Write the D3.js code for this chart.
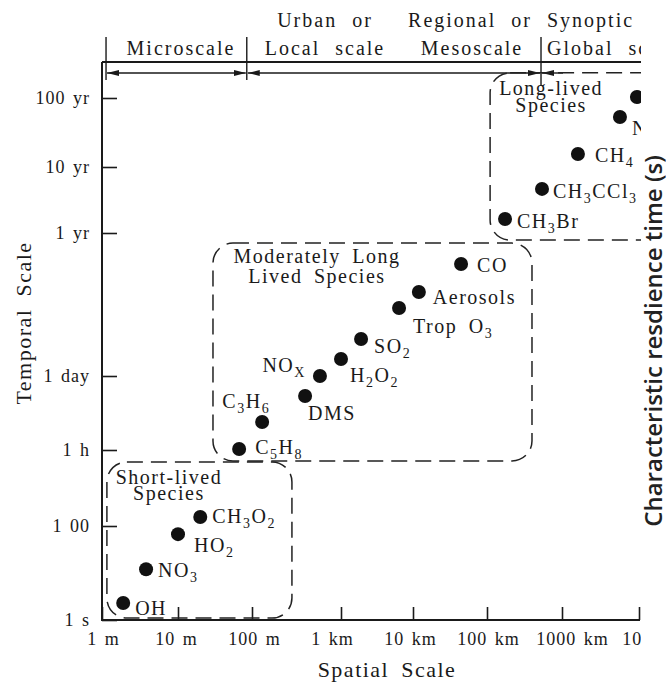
<!DOCTYPE html>
<html>
<head>
<meta charset="utf-8">
<script src="https://cdn.jsdelivr.net/npm/d3@7"></script>
<style>
body { margin: 0; background: #fff; }
svg text { font-family: "Liberation Serif", "Times New Roman", serif; fill: #1a1a1a; letter-spacing: 1.5px; word-spacing: 5px; }
svg .tick text { letter-spacing: 1px; word-spacing: 2px; }
</style>
</head>
<body>
<script>

// species, spatial scale (m) and residence time (s)
var species = ["OH", "NO_3", "HO_2", "CH_3O_2", "C_5H_8", "C_3H_6", "DMS", "NO_X", "H_2O_2", "SO_2",
  "Trop O_3", "Aerosols", "CO", "CH_3Br", "CH_3CCl_3", "CH_4", "N_2O", "CFCs"];
var spatialM = [1.9, 3.8, 10, 20, 67, 130, 395, 580, 1000, 1900,
  6400, 12000, 44600, 174000, 541000, 1.61e6, 5.66e6, 9.4e6];
var residenceS = [2.3, 12, 67, 153, 3760, 12000, 36600, 86400, 174000, 397000,
  1.43e6, 2.76e6, 8.77e6, 5.14e7, 1.47e8, 4.87e8, 1.67e9, 3.26e9];

var xTicks = [1, 10, 100, 1e3, 1e4, 1e5, 1e6, 1e7];
var xTickLabels = ["1 m", "10 m", "100 m", "1 km", "10 km", "100 km", "1000 km", "10000 km"];
var yTicks = [1, 100, 3600, 86400, 3.156e7, 3.156e8, 3.156e9];
var yTickLabels = ["1 s", "1 00", "1 h", "1 day", "1 yr", "10 yr", "100 yr"];

// dashed groups: extent in metres and seconds
var groupNames = [["Short-lived", "Species"], ["Moderately Long", "Lived Species"], ["Long-lived", "Species"]];
var groupX = [[1.16, 281], [29.7, 398000], [110000, 2e7]];
var groupY = [[1.1, 2050], [2150, 2.08e7], [2.36e7, 7.3e9]];

// scale bands along the top (metres)
var zoneEdges = [1.13, 85, 525000, 2e7];

// label placement relative to its dot: [dx, dy, anchor]
var labelPos = {
  "OH": [12, 12, "start"], "NO_3": [12, 8, "start"], "HO_2": [16, 18, "start"], "CH_3O_2": [12, 6, "start"],
  "C_5H_8": [16, 5, "start"], "C_3H_6": [8, -14, "end"], "DMS": [3, 24, "start"], "NO_X": [-14, -4, "end"],
  "H_2O_2": [9, 23, "start"], "SO_2": [13, 14, "start"], "Trop O_3": [14, 25, "start"], "Aerosols": [14, 12, "start"],
  "CO": [16, 8, "start"], "CH_3Br": [12, 9, "start"], "CH_3CCl_3": [11, 9, "start"], "CH_4": [17, 8, "start"],
  "N_2O": [12, 18, "start"], "CFCs": [14, 8, "start"]
};
var groupLabelPos = [[62, 22, 38], [104, 20, 40], [61, 22, 39]];
// the printed x labels sit a little off their ticks
var xLabelShift = [1, -2, 2, -9, -3, 1, 10, 24];

var width = 666, height = 693;

var svg = d3.select("body").append("svg")
  .attr("width", width)
  .attr("height", height);

var x = d3.scaleLog().domain(xTicks).range([102, 178, 252, 341, 413, 487, 562, 639]);
var y = d3.scaleLog().domain(yTicks).range([620, 526, 450, 376, 233, 167, 98]);

svg.append("clipPath").attr("id", "cut")
  .append("rect").attr("x", 0).attr("y", 0).attr("width", 641).attr("height", height);

var defs = svg.append("defs");
defs.append("marker")
  .attr("id", "arrow")
  .attr("viewBox", "0 0 12 6")
  .attr("refX", 12).attr("refY", 3)
  .attr("markerWidth", 12).attr("markerHeight", 6)
  .attr("markerUnits", "userSpaceOnUse")
  .attr("orient", "auto-start-reverse")
  .append("path").attr("d", "M0,0 L12,3 L0,6 Z").attr("fill", "#1a1a1a");

var chart = svg.append("g").attr("clip-path", "url(#cut)");

// header bands
var header = [
  ["Urban or", 325, 27], ["Regional or", 470, 27], ["Synoptic or", 547, 27, "start"],
  ["Microscale", 181, 55], ["Local scale", 325, 55], ["Mesoscale", 472, 55], ["Global scale", 547, 55, "start"]
];
chart.selectAll(".head")
  .data(header)
  .enter().append("text")
  .attr("class", "head")
  .attr("x", function(d) { return d[1]; })
  .attr("y", function(d) { return d[2]; })
  .attr("text-anchor", function(d) { return d[3] || "middle"; })
  .attr("font-size", 20)
  .style("letter-spacing", "2px")
  .style("word-spacing", "8px")
  .text(function(d) { return d[0]; });

chart.append("line")
  .attr("x1", x(1)).attr("x2", 641).attr("y1", 62).attr("y2", 62)
  .attr("stroke", "#1a1a1a").attr("stroke-width", 2);

chart.selectAll(".bar")
  .data(zoneEdges.slice(0, 3))
  .enter().append("line")
  .attr("class", "bar")
  .attr("x1", function(d) { return x(d); })
  .attr("x2", function(d) { return x(d); })
  .attr("y1", 37)
  .attr("y2", function(d, i) { return i == 2 ? 86 : 80; })
  .attr("stroke", "#1a1a1a").attr("stroke-width", 1.4);

// arrows between the band edges
for (var i = 0; i < 2; i++) {
  chart.append("line")
    .attr("x1", x(zoneEdges[i]) + 1).attr("x2", x(zoneEdges[i + 1]) - 1)
    .attr("y1", 73).attr("y2", 73)
    .attr("stroke", "#1a1a1a").attr("stroke-width", 1.4)
    .attr("marker-start", "url(#arrow)")
    .attr("marker-end", "url(#arrow)");
}
chart.append("line")
  .attr("x1", x(zoneEdges[2]) + 1).attr("x2", x(zoneEdges[2]) + 22)
  .attr("y1", 73).attr("y2", 73)
  .attr("stroke", "#1a1a1a").attr("stroke-width", 1.4)
  .attr("marker-start", "url(#arrow)");

// axes
var xAxis = d3.axisBottom(x)
  .tickValues(xTicks)
  .tickFormat(function(d) { return xTickLabels[xTicks.indexOf(d)]; })
  .tickSizeInner(-13).tickSizeOuter(0).tickPadding(12);
var yAxis = d3.axisLeft(y)
  .tickValues(yTicks)
  .tickFormat(function(d) { return yTickLabels[yTicks.indexOf(d)]; })
  .tickSizeInner(-15).tickSizeOuter(0).tickPadding(12);

chart.append("g")
  .attr("transform", "translate(0," + y(1) + ")")
  .call(xAxis)
  .attr("font-size", 18)
  .call(function(g) { g.select(".domain").remove(); })
  .call(function(g) { g.selectAll("line").attr("stroke", "#1a1a1a").attr("stroke-width", 1.6); })
  .call(function(g) { g.selectAll("text").attr("dx", function(d) { return xLabelShift[xTicks.indexOf(d)]; }); });

chart.append("g")
  .attr("transform", "translate(" + x(1) + ",0)")
  .call(yAxis)
  .attr("font-size", 18)
  .call(function(g) { g.select(".domain").remove(); })
  .call(function(g) { g.selectAll("line").attr("stroke", "#1a1a1a").attr("stroke-width", 1.6); });

chart.append("path")
  .attr("d", "M" + x(1) + ",62 V" + y(1) + " H640")
  .attr("fill", "none").attr("stroke", "#1a1a1a").attr("stroke-width", 2);

chart.append("text")
  .attr("transform", "translate(31,323) rotate(-90)")
  .attr("text-anchor", "middle")
  .attr("font-size", 22)
  .text("Temporal Scale");

chart.append("text")
  .attr("x", 387).attr("y", 677)
  .attr("text-anchor", "middle")
  .attr("font-size", 22)
  .text("Spatial Scale");

// dashed group outlines
var boxes = chart.selectAll(".box")
  .data(groupNames)
  .enter().append("g")
  .attr("class", "box");

boxes.append("rect")
  .attr("x", function(d, i) { return x(groupX[i][0]); })
  .attr("y", function(d, i) { return y(groupY[i][1]); })
  .attr("width", function(d, i) { return x(groupX[i][1]) - x(groupX[i][0]); })
  .attr("height", function(d, i) { return y(groupY[i][0]) - y(groupY[i][1]); })
  .attr("rx", 20)
  .attr("fill", "none")
  .attr("stroke", "#222")
  .attr("stroke-width", 1.5)
  .attr("stroke-dasharray", "16,8");

boxes.each(function(d, i) {
  var left = x(groupX[i][0]), top = y(groupY[i][1]);
  var p = groupLabelPos[i];
  d3.select(this).selectAll("text")
    .data(d)
    .enter().append("text")
    .attr("x", left + p[0])
    .attr("y", function(t, j) { return top + p[1 + j]; })
    .attr("text-anchor", "middle")
    .attr("font-size", 20)
    .text(function(t) { return t; });
});

// species dots
chart.selectAll(".dot")
  .data(species)
  .enter().append("circle")
  .attr("class", "dot")
  .attr("cx", function(d, i) { return x(spatialM[i]); })
  .attr("cy", function(d, i) { return y(residenceS[i]); })
  .attr("r", 7)
  .attr("fill", "#111");

function chemLabel(sel, str) {
  var parts = str.split(/(_.)/);
  var low = false;
  parts.forEach(function(p) {
    if (!p) return;
    if (p[0] == "_") {
      sel.append("tspan").attr("font-size", 14).attr("dy", low ? 0 : 5).text(p[1]);
      low = true;
    } else {
      sel.append("tspan").attr("dy", low ? -5 : 0).text(p);
      low = false;
    }
  });
}

chart.selectAll(".lab")
  .data(species)
  .enter().append("text")
  .attr("class", "lab")
  .attr("x", function(d, i) { return x(spatialM[i]) + labelPos[d][0]; })
  .attr("y", function(d, i) { return y(residenceS[i]) + labelPos[d][1]; })
  .attr("text-anchor", function(d) { return labelPos[d][2]; })
  .attr("font-size", 20)
  .each(function(d) { chemLabel(d3.select(this), d); });

// side label over the cut edge
svg.append("text")
  .attr("transform", "translate(662,341) rotate(-90)")
  .attr("text-anchor", "middle")
  .style("font-family", "'Open Sans', sans-serif")
  .style("font-weight", 600)
  .style("letter-spacing", "0px")
  .style("word-spacing", "0px")
  .style("fill", "#222")
  .attr("font-size", 24)
  .text("Characteristic resdience time (s)");

</script>
</body>
</html>
